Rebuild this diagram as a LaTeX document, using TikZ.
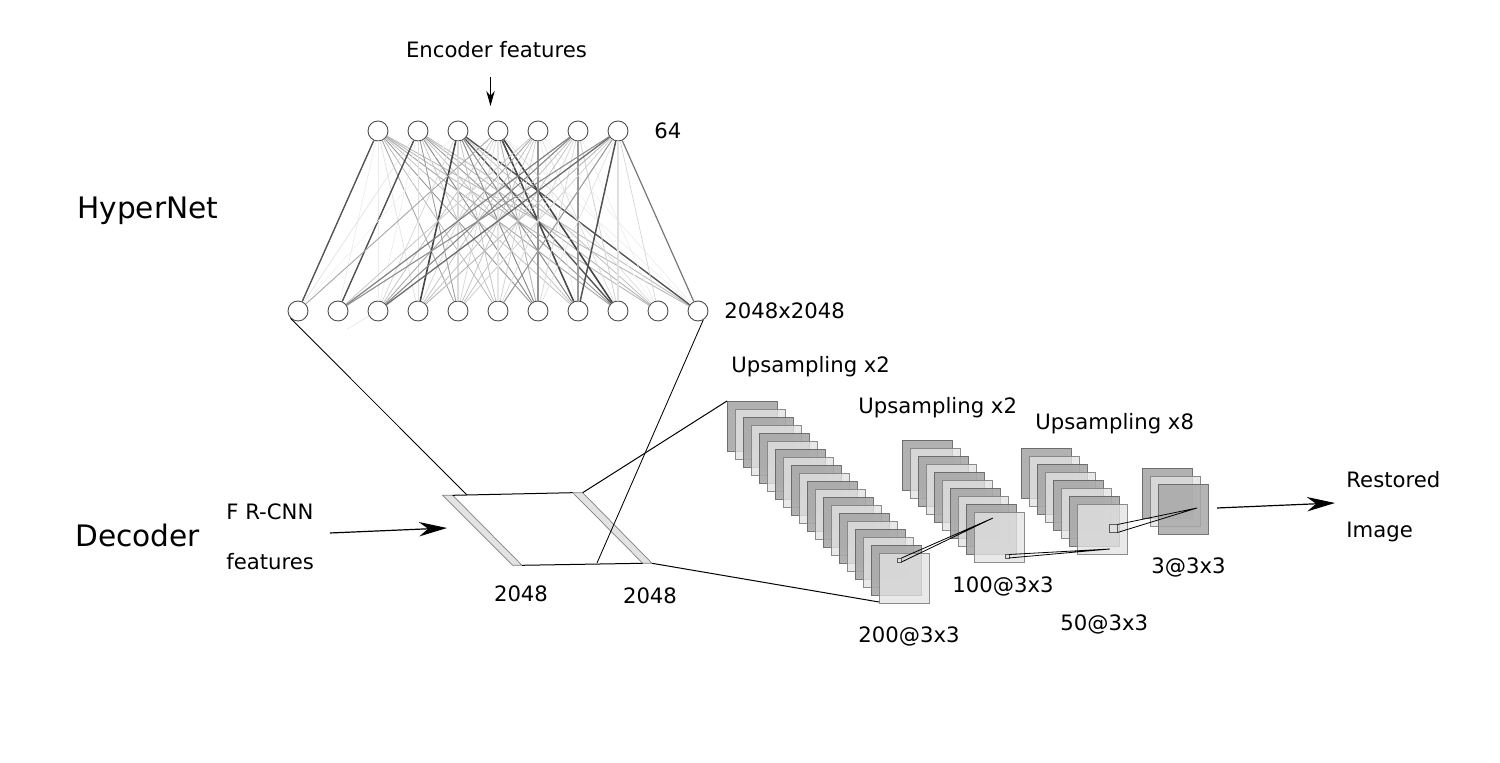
\documentclass[tikz,border=0pt]{standalone}
\usepackage{fontspec}
\setmainfont{DejaVu Sans}
\usetikzlibrary{arrows.meta}
\tikzset{
  unit/.style={circle,draw=black!70,fill=white,line width=0.45pt,minimum size=10pt,inner sep=0pt},
  lab/.style={inner sep=0pt,anchor=west,font=\fontsize{10.6pt}{12pt}\selectfont},
  labc/.style={inner sep=0pt,font=\fontsize{10.6pt}{12pt}\selectfont},
  big/.style={inner sep=0pt,anchor=west,font=\fontsize{14.8pt}{17pt}\selectfont},
  wire/.style={black,line width=0.5pt},
  thinwire/.style={black,line width=0.42pt},
  bigarrow/.style={black,line width=0.6pt,-{Stealth[length=14pt,width=7.2pt]}},
  smallarrow/.style={black,line width=0.45pt,-{Stealth[length=7.5pt,width=4.2pt]}},
  darksq/.style={draw=black!60,line width=0.45pt,fill=black!34,fill opacity=.9,draw opacity=.9},
  lightsq/.style={draw=black!50,line width=0.4pt,fill=black!11,fill opacity=.78,draw opacity=.9},
  plate/.style={draw=black!50,line width=0.35pt,fill=black!11},
  hw/.style={black,line width=0.4pt},
  tinysq/.style={draw=black!65,line width=0.35pt,fill=black!12}
}
\begin{document}
\begin{tikzpicture}[x=0.5pt,y=-0.5pt]
\useasboundingbox (0,0) rectangle (1500,763);
% units
\foreach \i in {0,...,6}{\node[unit] (t\i) at ({378+40*\i},131) {};}
\foreach \j in {0,...,10}{\node[unit] (b\j) at ({298+40*\j},311) {};}
% weights: top/bottom/strength/width
\foreach \t/\b/\g/\w in {
 0/0/66/.7,0/1/8/.35,0/2/8/.35,0/3/11/.4,0/4/34/.45,0/5/28/.4,0/6/40/.45,0/7/24/.4,0/8/36/.45,0/9/28/.45,0/10/28/.45,
 1/0/10/.35,1/1/68/.7,1/2/8/.35,1/3/12/.4,1/4/38/.45,1/5/22/.4,1/6/42/.5,1/7/24/.4,1/8/40/.45,1/9/30/.45,1/10/26/.45,
 2/0/6/.3,2/2/15/.4,2/3/72/.8,2/4/14/.9,2/5/24/.4,2/6/44/.5,2/7/44/.5,2/8/66/.7,2/9/24/.4,2/10/66/.7,
 3/0/34/.45,3/2/24/.4,3/3/15/.4,3/4/15/.4,3/5/10/.6,3/6/30/.45,3/7/70/.8,3/8/72/.8,3/9/14/.35,3/10/8/.3,
 4/1/22/.4,4/2/34/.45,4/3/24/.4,4/4/22/.4,4/5/18/.4,4/6/42/1.25,4/7/8/.35,4/8/14/.35,4/9/6/.3,4/10/8/.3,
 5/1/50/.6,5/2/46/.55,5/3/24/.4,5/4/24/.4,5/5/14/.4,5/6/15/.4,5/7/40/1.05,5/8/18/.4,5/9/8/.3,
 6/1/44/.55,6/2/58/.65,6/3/28/.45,6/4/18/.4,6/5/40/.5,6/6/12/.35,6/7/68/.75,6/8/12/.9,6/9/16/.35,6/10/52/.6}{
  \draw[line width=\w pt,draw=black!\g] (t\t) -- (b\b);
}
\coordinate (fade) at (347,329);
\draw[line width=.3pt,draw=black!10] (b2) -- (fade);
% decoder plates
\coordinate (p1a) at (442.7,495.3);\coordinate (p1b) at (452.7,495.3);
\coordinate (p1c) at (522,565.3);\coordinate (p1d) at (512.7,565.3);
\coordinate (p2a) at (572.7,492.7);\coordinate (p2b) at (582.7,492.7);
\coordinate (p2c) at (652,563.3);\coordinate (p2d) at (642.7,563.3);
\draw[plate] (p1a)--(p1b)--(p1c)--(p1d)--cycle;
\draw[plate] (p2a)--(p2b)--(p2c)--(p2d)--cycle;
\draw[wire] (p1b)--(p2a);
\draw[wire] (p1c)--(p2d);
% hypernet to decoder
\coordinate (h1) at (467,495);\coordinate (h2) at (597,563);
\draw[thinwire] (b0.225)--(h1);
\draw[thinwire] (b10.-60)--(h2);
% stacks
\foreach \k in {0,...,19}{
  \pgfmathsetmacro\sx{727+8*\k}\pgfmathsetmacro\sy{401+8*\k}
  \pgfmathparse{int(mod(\k,2))}
  \ifnum\pgfmathresult=0 \def\sty{darksq}\else\def\sty{lightsq}\fi
  \draw[\sty] (\sx,\sy) rectangle +(50,50);
}
\foreach \k in {0,...,9}{
  \pgfmathsetmacro\sx{902+8*\k}\pgfmathsetmacro\sy{440+8*\k}
  \pgfmathparse{int(mod(\k,2))}
  \ifnum\pgfmathresult=0 \def\sty{darksq}\else\def\sty{lightsq}\fi
  \draw[\sty] (\sx,\sy) rectangle +(50,50);
}
\foreach \k in {0,...,7}{
  \pgfmathsetmacro\sx{1021+8*\k}\pgfmathsetmacro\sy{448+8*\k}
  \pgfmathparse{int(mod(\k,2))}
  \ifnum\pgfmathresult=0 \def\sty{darksq}\else\def\sty{lightsq}\fi
  \draw[\sty] (\sx,\sy) rectangle +(50,50);
}
\draw[darksq] (1142,468) rectangle +(50,50);
\draw[lightsq] (1150,476) rectangle +(50,50);
\draw[darksq,fill opacity=.85] (1158,484) rectangle +(50,50);
% stack corners and filter links
\coordinate (s1tl) at (727,401);\coordinate (s1bl) at (879,602);
\draw[wire] (p2b)--(s1tl);
\draw[wire] (p2c)--(s1bl);
\coordinate (k1) at (993,518);\coordinate (k2) at (1110,549);\coordinate (k3) at (1197,508);
\draw[tinysq] (897.5,558) rectangle (901.5,562);
\draw[hw] (901.5,558)--(k1) (901.5,562)--(k1);
\draw[tinysq] (1005,554.5) rectangle (1009,558);
\draw[hw] (1009,554.5)--(k2) (1009,558)--(k2);
\draw[tinysq] (1109.5,524.5) rectangle (1117.5,532.5);
\draw[hw] (1117.5,524.5)--(k3) (1117.5,532.5)--(k3);
% arrows
\coordinate (a1s) at (490.5,77);\coordinate (a1e) at (490.5,106);
\draw[smallarrow] (a1s)--(a1e);
\coordinate (a2s) at (330,533);\coordinate (a2e) at (447,528);
\draw[bigarrow] (a2s)--(a2e);
\coordinate (a3s) at (1217,508);\coordinate (a3e) at (1335,503);
\draw[bigarrow] (a3s)--(a3e);
% labels
\node[labc] (lenc) at (496.5,49.5) {Encoder features};
\node[lab] (l64) at (654,131) {64};
\node[big] (lhyp) at (77,211) {HyperNet};
\node[big] (ldec) at (75,535.5) {Decoder};
\node[lab] (l2048) at (724,311) {2048x2048};
\node[lab] (lup1) at (731,367) {Upsampling x2};
\node[lab] (lup2) at (858,407.5) {Upsampling x2};
\node[lab] (lup3) at (1035,423.5) {Upsampling x8};
\node[lab] (lfr) at (226,512) {F R-CNN};
\node[lab] (lfe) at (226,562) {features};
\node[labc] (ln1) at (521,594) {2048};
\node[labc] (ln2) at (650,596) {2048};
\node[lab] (l200) at (858,636) {200@3x3};
\node[lab] (l100) at (952,586) {100@3x3};
\node[lab] (l50) at (1060,624) {50@3x3};
\node[lab] (l3) at (1151,567) {3@3x3};
\node[lab] (lres) at (1346,480) {Restored};
\node[lab] (limg) at (1346,532) {Image};
\end{tikzpicture}
\end{document}
